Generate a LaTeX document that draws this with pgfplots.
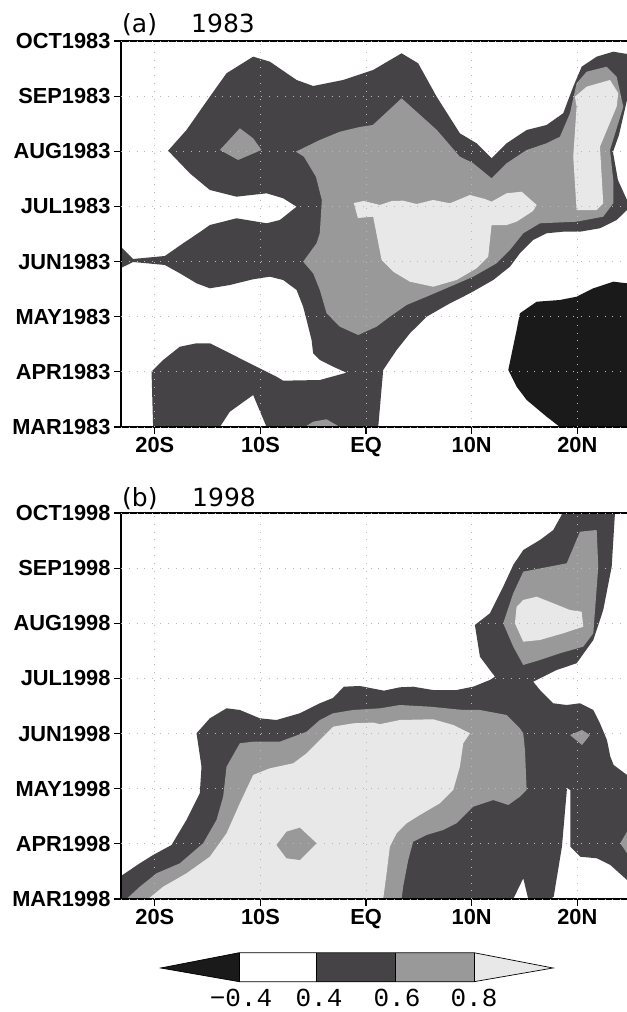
\documentclass[border=0pt]{standalone}
\usepackage{fontspec}
\setmainfont{Liberation Sans}
\newfontfamily\titlefont{DejaVu Sans}
\newfontfamily\barfont{Liberation Mono}
\usepackage{pgfplots}
\pgfplotsset{compat=1.18}

\definecolor{cdark}{RGB}{69,67,69}
\definecolor{cmid}{RGB}{153,153,153}
\definecolor{clight}{RGB}{232,232,232}
\definecolor{cblack}{RGB}{26,26,26}

\pgfplotsset{
  hov/.style={
    scale only axis, width=506bp, height=386bp,
    xmin=-23.2, xmax=24.7, ymin=0, ymax=7,
    xtick={-20,-10,0,10,20}, xticklabels={20S,10S,EQ,10N,20N},
    ytick={0,1,2,3,4,5,6,7},
    tick align=outside, xtick pos=lower, ytick pos=lower,
    major tick length=7bp,
    every tick/.style={black, line width=1.2bp},
    grid=major,
    major grid style={gray!55, line width=0.8bp, dash pattern=on 0.8bp off 7bp},
    axis line style={draw=none},
    axis on top, clip=false, no markers,
    ticklabel style={font=\fontsize{21.8bp}{23bp}\selectfont\bfseries},
  },
  lvl/.style={fill=#1, draw=none},
}

\begin{document}
\begin{tikzpicture}
\path[use as bounding box] (0,0) rectangle (627bp,1012bp);

% ---------------- (a) 1983 ----------------
\begin{axis}[hov, at={(121bp,585bp)}, anchor=south west,
  yticklabels={MAR1983,APR1983,MAY1983,JUN1983,JUL1983,AUG1983,SEP1983,OCT1983}]
% >= 0.4
\addplot[lvl=cdark] coordinates {(-23.2,3.264) (-22.05,3.047) (-19.05,3.101) (-17.32,3.331) (-15.58,3.555) (-14.79,3.663) (-12.26,3.785) (-9.42,3.694) (-8.16,3.754) (-6.58,3.995) (-7.85,4.148) (-9.42,4.238) (-12.26,4.177) (-14.79,4.298) (-16.69,4.601) (-18.74,5.011) (-17.0,5.386) (-14.79,5.990) (-13.21,6.415) (-10.69,6.716) (-9.11,6.625) (-6.58,6.293) (-5.01,6.184) (-2.17,6.293) (0.67,6.474) (3.36,6.777) (4.93,6.596) (6.68,5.990) (8.88,5.326) (10.46,5.145) (11.88,4.873) (13.30,5.145) (15.20,5.386) (17.09,5.477) (18.66,5.689) (19.61,6.172) (20.41,6.534) (21.83,6.716) (23.40,6.806) (24.7,6.765) (24.7,5.930) (23.94,5.296) (23.37,4.987) (23.84,4.479) (24.7,4.117) (24.7,3.935) (23.72,3.754) (22.14,3.604) (20.25,3.542) (18.66,3.542) (17.09,3.513) (15.82,3.391) (14.56,3.150) (13.62,2.907) (12.04,2.666) (9.83,2.425) (7.94,2.243) (5.73,2.000) (4.15,1.699) (2.89,1.396) (1.62,1.034) (1.15,0) (-9.42,0) (-10.69,0.580) (-12.90,0.277) (-13.84,0) (-20.16,0) (-20.31,1.003) (-19.21,1.215) (-17.63,1.456) (-16.05,1.518) (-14.79,1.518) (-12.90,1.337) (-10.37,1.094) (-8.48,0.912) (-7.85,0.840) (-4.38,0.852) (-1.85,0.985) (-3.12,1.094) (-4.38,1.215) (-5.01,1.337) (-5.16,1.578) (-5.63,1.940) (-5.96,2.182) (-6.58,2.485) (-7.85,2.666) (-9.11,2.726) (-10.69,2.679) (-12.90,2.575) (-14.79,2.515) (-16.05,2.606) (-17.63,2.787) (-19.05,2.938) (-22.05,2.992) (-23.2,2.884)} -- cycle;
% >= 0.6
\addplot[lvl=cmid] coordinates {(-6.65,4.993) (-4.38,5.205) (-2.48,5.355) (-0.59,5.441) (0.64,5.477) (3.36,5.961) (4.91,5.695) (6.70,5.386) (8.88,4.902) (10.11,4.788) (11.88,4.510) (13.30,4.782) (15.20,5.024) (17.09,5.145) (18.35,5.265) (19.30,5.689) (19.93,6.233) (20.88,6.444) (22.77,6.534) (23.72,6.353) (24.35,5.809) (23.09,5.024) (23.40,4.479) (23.40,4.057) (22.45,3.814) (19.93,3.723) (16.46,3.694) (14.88,3.513) (13.62,3.210) (12.36,2.969) (10.14,2.726) (7.94,2.544) (5.73,2.363) (3.84,2.213) (2.25,2.000) (0.99,1.819) (-0.75,1.668) (-2.48,1.819) (-3.74,2.062) (-4.38,2.485) (-5.01,2.787) (-5.96,2.998) (-4.69,3.331) (-4.38,3.518) (-4.19,4.117) (-4.75,4.539) (-5.89,4.902)} -- cycle;
\addplot[lvl=cmid] coordinates {(-13.84,5.024) (-11.95,5.417) (-10.69,5.236) (-9.90,5.024) (-12.11,4.842)} -- cycle;
\addplot[lvl=cmid] coordinates {(-5.80,0) (-5.01,0.096) (-3.74,0.140) (-2.48,0)} -- cycle;
% >= 0.8
\addplot[lvl=clight] coordinates {(-1.16,4.062) (-0.21,4.099) (1.31,4.026) (2.44,4.099) (3.51,4.104) (4.78,4.044) (6.35,4.117) (7.94,4.057) (9.83,4.207) (11.25,4.135) (11.88,4.086) (13.30,4.238) (14.73,4.267) (16.15,4.026) (15.80,3.917) (14.25,3.723) (13.30,3.663) (11.88,3.663) (11.56,3.089) (10.46,2.878) (8.57,2.666) (6.35,2.544) (4.15,2.635) (2.57,2.816) (1.47,3.029) (0.67,3.814) (-0.78,3.790)} -- cycle;
\addplot[lvl=clight] coordinates {(19.77,5.990) (20.88,6.172) (23.09,6.293) (23.87,6.052) (23.72,5.809) (22.14,5.083) (22.45,4.057) (21.83,3.935) (19.93,3.935) (19.61,4.902) (19.93,5.809)} -- cycle;
% <= -0.4
\addplot[lvl=cblack] coordinates {(24.7,2.606) (23.40,2.635) (21.51,2.515) (19.93,2.363) (18.35,2.303) (16.15,2.272) (14.56,2.062) (14.25,1.759) (13.46,1.034) (14.25,0.731) (15.20,0.490) (17.09,0.187) (18.35,0) (24.7,0)} -- cycle;
\draw[line width=1.2bp] (rel axis cs:1,0) -- (rel axis cs:0,0) -- (rel axis cs:0,1) -- (rel axis cs:1,1);
\end{axis}
\node[anchor=base west, inner sep=0pt, font=\titlefont\fontsize{25bp}{25bp}\selectfont] at (122bp,979bp) {(a)};
\node[anchor=base west, inner sep=0pt, font=\titlefont\fontsize{25bp}{25bp}\selectfont] at (191bp,979bp) {1983};

% ---------------- (b) 1998 ----------------
\begin{axis}[hov, at={(121bp,113bp)}, anchor=south west,
  yticklabels={MAR1998,APR1998,MAY1998,JUN1998,JUL1998,AUG1998,SEP1998,OCT1998}]
% >= 0.4
\addplot[lvl=cdark] coordinates {(-23.2,0) (-23.2,0.417) (-21.42,0.647) (-20.16,0.798) (-18.42,0.979) (-17.0,1.433) (-15.74,1.917) (-15.58,2.399) (-16.05,3.005) (-14.79,3.277) (-13.21,3.458) (-11.95,3.428) (-10.06,3.277) (-8.48,3.246) (-6.27,3.368) (-4.38,3.549) (-3.14,3.645) (-2.10,3.850) (-0.59,3.863) (1.69,3.778) (3.20,3.839) (4.46,3.850) (6.33,3.790) (8.57,3.790) (10.14,3.850) (11.72,3.972) (12.20,4.032) (11.72,4.153) (10.78,4.394) (10.30,4.969) (11.72,5.181) (12.98,5.664) (13.93,6.057) (14.88,6.329) (16.46,6.511) (17.72,6.692) (18.51,6.964) (18.54,7) (23.56,7) (23.25,6.026) (22.45,5.241) (21.51,4.697) (19.93,4.275) (18.04,4.153) (16.15,3.972) (15.82,3.941) (16.46,3.790) (17.72,3.549) (18.99,3.518) (20.25,3.549) (21.51,3.428) (22.14,3.186) (22.80,2.884) (23.12,2.581) (23.44,2.430) (24.7,2.249) (24.7,0.345) (23.12,0.617) (21.86,0.738) (20.27,0.767) (19.33,0.949) (19.33,1.977) (19.02,2.013) (18.54,0.949) (17.76,0.042) (17.43,0) (15.35,0) (14.88,0.375) (13.93,0)} -- cycle;
% >= 0.6
\addplot[lvl=cmid] coordinates {(-22.68,0) (-21.42,0.223) (-19.84,0.466) (-17.63,0.647) (-15.43,1.010) (-14.16,1.433) (-13.53,1.855) (-13.21,2.399) (-11.95,2.824) (-10.69,2.853) (-8.16,2.853) (-6.90,2.943) (-5.63,3.034) (-4.38,3.246) (-3.12,3.368) (-1.22,3.428) (1.31,3.458) (3.20,3.518) (6.04,3.488) (9.20,3.428) (10.78,3.428) (13.30,3.337) (14.56,3.096) (14.88,3.005) (15.04,2.702) (15.20,1.977) (14.56,1.855) (13.46,1.705) (12.04,1.795) (10.14,1.674) (8.57,1.373) (7.30,1.251) (5.73,1.161) (4.46,1.039) (3.99,0.707) (3.51,0.223) (3.36,0)} -- cycle;
\addplot[lvl=cmid] coordinates {(14.88,5.936) (18.99,6.088) (20.25,6.661) (21.83,6.692) (21.98,6.026) (21.51,4.819) (20.56,4.576) (18.35,4.456) (16.46,4.334) (14.88,4.244) (13.93,4.576) (12.98,5.000) (13.93,5.544)} -- cycle;
\addplot[lvl=cmid] coordinates {(19.30,2.974) (20.44,3.065) (21.19,2.974) (20.44,2.793)} -- cycle;
\addplot[lvl=cmid] coordinates {(24.7,1.221) (24.06,1.010) (24.7,0.829)} -- cycle;
% >= 0.8
\addplot[lvl=clight] coordinates {(-20.63,0) (-19.21,0.223) (-17.0,0.466) (-14.79,0.767) (-13.21,1.191) (-11.95,1.736) (-10.69,2.249) (-9.11,2.370) (-6.90,2.461) (-5.63,2.642) (-4.38,2.884) (-3.12,3.125) (-1.22,3.186) (0.67,3.20) (1.31,3.17) (3.20,3.246) (6.35,3.259) (8.25,3.156) (9.83,3.005) (9.20,2.824) (8.88,2.399) (8.25,1.977) (6.99,1.736) (5.09,1.523) (3.84,1.373) (2.89,1.191) (2.25,0.949) (1.94,0.466) (1.62,0)} -- cycle;
\addplot[lvl=cmid] coordinates {(-8.48,0.979) (-7.53,1.221) (-6.27,1.293) (-4.69,1.010) (-6.27,0.707) (-7.53,0.738)} -- cycle;
\addplot[lvl=clight] coordinates {(14.25,5.301) (14.88,5.423) (16.15,5.482) (17.72,5.363) (19.30,5.241) (20.41,5.210) (20.56,4.938) (18.66,4.819) (16.46,4.697) (14.88,4.666) (14.09,5.000)} -- cycle;
\draw[line width=1.2bp] (rel axis cs:1,0) -- (rel axis cs:0,0) -- (rel axis cs:0,1) -- (rel axis cs:1,1);
\end{axis}
\node[anchor=base west, inner sep=0pt, font=\titlefont\fontsize{25bp}{25bp}\selectfont] at (122bp,505bp) {(b)};
\node[anchor=base west, inner sep=0pt, font=\titlefont\fontsize{25bp}{25bp}\selectfont] at (192bp,505bp) {1998};

% ---------------- colour bar ----------------
\begin{scope}[line width=0.7bp]
\fill[cblack] (160.7bp,44bp) -- (239.3bp,59.3bp) -- (239.3bp,30.3bp) -- cycle;
\fill[white] (239.3bp,30.3bp) rectangle (316.7bp,59.3bp);
\fill[cdark] (316.7bp,30.3bp) rectangle (395.7bp,59.3bp);
\fill[cmid] (395.7bp,30.3bp) rectangle (474bp,59.3bp);
\fill[clight] (474bp,30.3bp) -- (553bp,44bp) -- (474bp,59.3bp) -- cycle;
\draw (160.7bp,44bp) -- (239.3bp,59.3bp) -- (474bp,59.3bp) -- (553bp,44bp) -- (474bp,30.3bp) -- (239.3bp,30.3bp) -- cycle;
\draw (239.3bp,30.3bp) -- (239.3bp,59.3bp) (316.7bp,30.3bp) -- (316.7bp,59.3bp)
      (395.7bp,30.3bp) -- (395.7bp,59.3bp) (474bp,30.3bp) -- (474bp,59.3bp);
\end{scope}
\begin{scope}[every node/.style={anchor=base, inner sep=0pt, font=\barfont\fontsize{26bp}{26bp}\selectfont}]
\node at (241bp,6bp) {−0.4};
\node at (319bp,6bp) {0.4};
\node at (397bp,6bp) {0.6};
\node at (474bp,6bp) {0.8};
\end{scope}
\end{tikzpicture}
\end{document}
